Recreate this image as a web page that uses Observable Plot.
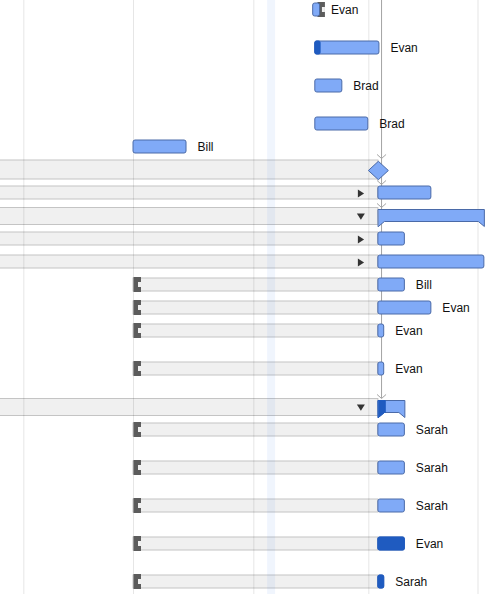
<!DOCTYPE html>
<html><head><meta charset="utf-8">
<script src="https://cdn.jsdelivr.net/npm/d3@7"></script>
<script src="https://cdn.jsdelivr.net/npm/@observablehq/plot@0.6"></script>
<style>html,body{margin:0;padding:0;background:#fff;overflow:hidden} #chart svg{display:block}</style>
</head><body><div id="chart"></div>
<script>
// ---- data (days on the timeline) ----
const resources = ["Evan","Evan","Brad","Brad","Bill","","","","","","Bill","Evan","Evan","Evan","","Sarah","Sarah","Sarah","Evan","Sarah"];
const nameLines = [2,2,2,1,1,1,1,1,1,1,1,1,2,2,1,2,2,2,2,2];
const kinds = ["task","task","task","task","task","milestone","collapsed","summary","collapsed","collapsed","task","task","task","task","summary","task","task","task","task","task"];
const startDays = [57.7,58.1,58.1,58.1,23.8,70,70,70,70,70,70,70,70,70,70,70,70,70,70,70];
const endDays   = [59.0,70.2,63.2,68.1,33.8,70,80,90,75,90,75,80,71.1,71.1,75,75,75,75,75,71.1];
const doneDays  = [0,1,0,0,0,0,0,0,0,0,0,0,0,0,1.3,0,0,0,5,1.1];
const baselineStart = [58.5,null,null,null,null,-6,-6,-6,-6,-6,23.8,23.8,23.8,23.8,-6,23.8,23.8,23.8,23.8,23.8];
const baselineEnd   = [58.5,null,null,null,null,70,70,70,70,70,70,70,70,70,70,70,70,70,70,70];
const dependencyTargets = [6,7,8,15];
const dependencyDay = 70.6;
const gridDays = [3.1,23.8,46.5,68.2,88.8];
const todaySpan = [49.1,50.6];
const X_DOMAIN = [-1.3,92.1];

// ---- layout helpers ----
const W = 495, H = 594;
let acc = 0;
const rows = resources.map((r,i) => {
  const top = acc; acc += 8 + 15*nameLines[i];
  return {i, resource:r, kind:kinds[i], top, start:startDays[i], end:endDays[i], done:doneDays[i], bs:baselineStart[i], be:baselineEnd[i]};
});
const pxPerDay = W/(X_DOMAIN[1]-X_DOMAIN[0]);
const notch = 6/pxPerDay;

const LIGHT = "#80aaf7", EDGE = "#4a6aa8", DARK = "#1f5bc0";
const BAND = "#f0f0f0", BANDLINE = "#c4c4c4";

const bandRows = rows.filter(d => d.bs != null && d.be > d.bs).map(d => {
  let y1 = d.top+3, y2 = d.top+16;
  if (d.kind === "milestone") { y1 = d.top; y2 = d.top+19; }
  if (d.kind === "summary") { y1 = d.top+1.5; y2 = d.top+18.5; }
  return {...d, y1, y2};
});
const bracketRows = rows.filter(d => d.bs != null && d.bs > X_DOMAIN[0]);
const bars = rows.filter(d => d.kind === "task" || d.kind === "collapsed");
const doneBars = bars.filter(d => d.done > 0).map(d => ({...d, p: Math.min(d.end, d.start + d.done)}));
const summaries = rows.filter(d => d.kind === "summary");
const summaryPts = [];
summaries.forEach(d => {
  const t = d.top;
  [[d.start,t+3],[d.end,t+3],[d.end,t+20],[d.end-notch,t+15],[d.start+notch,t+15],[d.start,t+20]]
    .forEach(([x,y]) => summaryPts.push({row:d.i, x, y}));
});
const summaryDonePts = [];
summaries.filter(d => d.done > 0).forEach(d => {
  const t = d.top, p = d.start + d.done;
  [[d.start,t+3],[p,t+3],[p,t+15],[d.start+Math.min(notch,d.done),t+15],[d.start,t+20]]
    .forEach(([x,y]) => summaryDonePts.push({row:d.i, x, y}));
});
const milestones = rows.filter(d => d.kind === "milestone");
const toggleRight = rows.filter(d => d.kind === "collapsed");
const toggleDown = rows.filter(d => d.kind === "summary");
const barTop = d => d.kind === "milestone" ? d.top : d.top + 3;
const depArrows = dependencyTargets.map(n => ({y: barTop(rows[n-1]) - 4}));
const depEnd = d3.max(depArrows, d => d.y) + 2;
const labels = rows.filter(d => d.resource);

const chevron = {draw(ctx, size){ const r = Math.sqrt(size/Math.PI); ctx.moveTo(-r,-r*0.45); ctx.lineTo(0,r*0.45); ctx.lineTo(r,-r*0.45); }};
const triRight = {draw(ctx, size){ const r = Math.sqrt(size/Math.PI); ctx.moveTo(-0.75*r,-r); ctx.lineTo(0.8*r,0); ctx.lineTo(-0.75*r,r); ctx.closePath(); }};
const triDown = {draw(ctx, size){ const r = Math.sqrt(size/Math.PI); ctx.moveTo(-r,-0.75*r); ctx.lineTo(r,-0.75*r); ctx.lineTo(0,0.8*r); ctx.closePath(); }};
const diamond = {draw(ctx, size){ const r = Math.sqrt(size/Math.PI); ctx.moveTo(0,-0.92*r); ctx.lineTo(r,0); ctx.lineTo(0,0.92*r); ctx.lineTo(-r,0); ctx.closePath(); }};

const chart = Plot.plot({
  width: W, height: H,
  marginTop: 0, marginRight: 0, marginBottom: 0, marginLeft: 0,
  style: {fontFamily: "'Liberation Sans', Arial, Helvetica, sans-serif", fontSize: "12px", background: "#fff"},
  x: {domain: X_DOMAIN, axis: null},
  y: {domain: [0, H], reverse: true, axis: null},
  marks: [
    Plot.rect(bandRows, {x1: "bs", x2: "be", y1: "y1", y2: "y2", fill: BAND, stroke: BANDLINE, strokeWidth: 1}),
    Plot.ruleX(gridDays, {stroke: "#000", strokeOpacity: 0.1}),
    Plot.rect([todaySpan], {x1: d => d[0], x2: d => d[1], fill: "#3d85e0", fillOpacity: 0.08}),
    Plot.ruleX(bracketRows, {x: "bs", y1: d => d.top+2, y2: d => d.top+17, stroke: "#5c5c5c", strokeWidth: 7.5, dx: 3.75}),
    Plot.ruleX(bracketRows, {x: "bs", y1: d => d.top+7, y2: d => d.top+12, stroke: "#f0f0f0", strokeWidth: 3, dx: 6}),
    Plot.dot(toggleRight, {x: "be", y: d => d.top+10, dx: -17.5, symbol: triRight, r: 4, fill: "#333", stroke: "none"}),
    Plot.dot(toggleDown, {x: "be", y: d => d.top+10, dx: -17.5, symbol: triDown, r: 4, fill: "#333", stroke: "none"}),
    Plot.ruleX([dependencyDay], {y1: 0, y2: depEnd, stroke: "#a3a3a3", strokeWidth: 1}),
    Plot.dot(depArrows, {x: () => dependencyDay, y: "y", symbol: chevron, r: 4.5, fill: "none", stroke: "#a3a3a3", strokeWidth: 1}),
    Plot.rect(bars, {x1: "start", x2: "end", y1: d => d.top+3, y2: d => d.top+16, rx: 2, fill: LIGHT, stroke: EDGE, strokeWidth: 1}),
    Plot.rect(doneBars, {x1: "start", x2: "p", y1: d => d.top+3, y2: d => d.top+16, rx: 1.5, fill: DARK, stroke: DARK, strokeWidth: 1}),
    Plot.line(summaryPts, {x: "x", y: "y", z: "row", curve: "linear-closed", fill: LIGHT, stroke: EDGE, strokeWidth: 1}),
    Plot.line(summaryDonePts, {x: "x", y: "y", z: "row", curve: "linear-closed", fill: DARK, stroke: DARK, strokeWidth: 1}),
    Plot.dot(milestones, {x: "start", y: d => d.top+10, symbol: diamond, r: 10, fill: LIGHT, stroke: EDGE, strokeWidth: 1}),
    Plot.text(labels, {x: "end", y: d => d.top+9.5, text: "resource", dx: 11, textAnchor: "start", fontSize: 12, fill: "#111"})
  ]
});
document.getElementById("chart").appendChild(chart);
</script>
</body></html>
